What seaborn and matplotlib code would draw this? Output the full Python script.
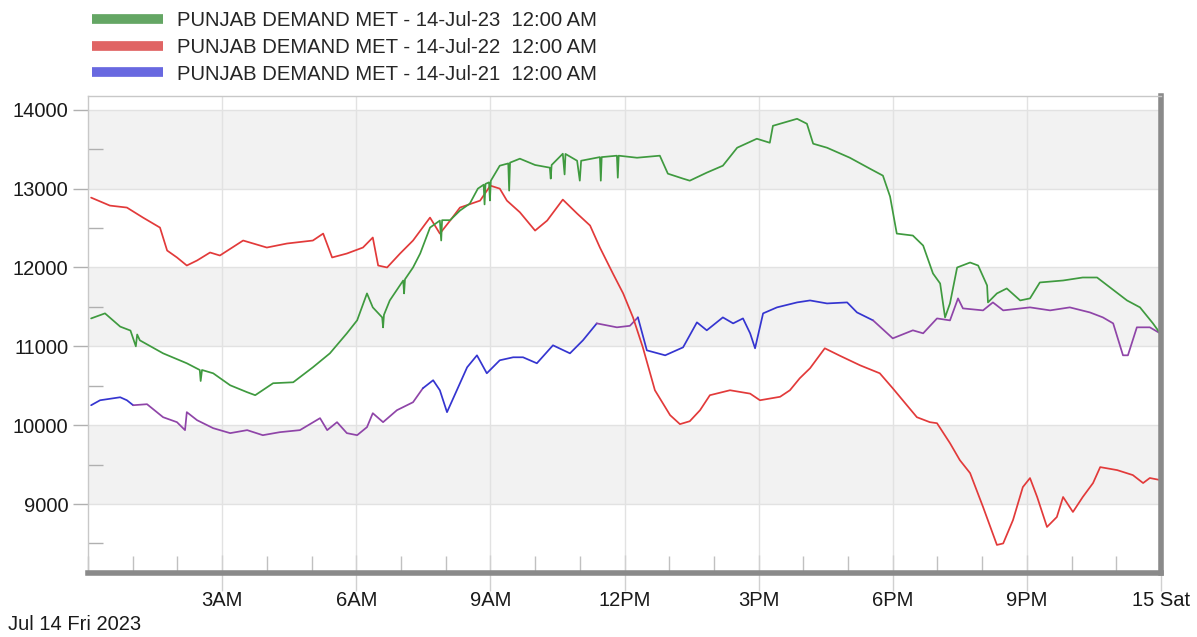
#!/usr/bin/env python3
"""Punjab demand met on 14 July, three years compared (hourly trace)."""

import numpy as np
import pandas as pd
import seaborn as sns
import matplotlib

matplotlib.use("Agg")
import matplotlib.pyplot as plt
from matplotlib.lines import Line2D
from matplotlib.ticker import MultipleLocator

# hours since midnight -> MW
HOURS_23 = [0.07, 0.38, 0.72, 0.95, 1.07, 1.10, 1.16, 1.68, 2.21, 2.50, 2.52, 2.55,
            2.80, 3.18, 3.56, 3.74, 4.14, 4.59, 5.03, 5.41, 5.79, 6.02, 6.24, 6.37,
            6.58, 6.60, 6.62, 6.75, 7.05, 7.07, 7.09, 7.27, 7.43, 7.65, 7.87, 7.90,
            7.92, 8.10, 8.32, 8.54, 8.72, 8.85, 8.87, 8.89, 8.97, 8.99, 9.01, 9.21,
            9.40, 9.42, 9.44, 9.66, 10.00, 10.33, 10.35, 10.37, 10.62, 10.66, 10.68,
            10.94, 11.00, 11.03, 11.45, 11.47, 11.49, 11.83, 11.85, 11.87, 12.28,
            12.79, 12.97, 13.31, 13.46, 13.84, 14.20, 14.52, 14.96, 15.25, 15.32,
            15.86, 16.08, 16.22, 16.53, 17.04, 17.49, 17.78, 17.94, 18.09, 18.45,
            18.68, 18.90, 19.06, 19.17, 19.28, 19.44, 19.73, 19.91, 20.11, 20.13,
            20.33, 20.55, 20.85, 21.07, 21.29, 21.81, 22.25, 22.57, 22.86, 23.24,
            23.53, 23.82, 23.98]
DEMAND_23 = [11354, 11418, 11250, 11200, 11000, 11150, 11076, 10911, 10785, 10700, 10560, 10700,
             10658, 10506, 10418, 10380, 10532, 10544, 10734, 10911, 11165, 11330, 11671, 11494,
             11367, 11240, 11400, 11582, 11835, 11671, 11850, 12000, 12177, 12506, 12595, 12342,
             12600, 12600, 12722, 12810, 13000, 13050, 12800, 13060, 13080, 12850, 13100, 13291,
             13320, 12975, 13330, 13380, 13300, 13266, 13127, 13300, 13443, 13180, 13440,
             13354, 13101, 13354, 13400, 13101, 13400, 13418, 13139, 13418, 13392,
             13418, 13190, 13127, 13101, 13203, 13291, 13519, 13633, 13582, 13797,
             13886, 13823, 13570, 13519, 13392, 13253, 13165, 12900, 12430, 12405,
             12278, 11924, 11797, 11367, 11544, 12000, 12063, 12025, 11772, 11557,
             11671, 11734, 11582, 11608, 11810, 11835, 11873, 11873, 11747, 11582,
             11494, 11291, 11165]

HOURS_22 = [0.07, 0.49, 0.87, 1.23, 1.61, 1.77, 1.99, 2.21, 2.44, 2.73, 2.95, 3.47,
            4.00, 4.45, 5.03, 5.26, 5.46, 5.79, 6.15, 6.37, 6.49, 6.69, 6.98, 7.27,
            7.65, 7.87, 8.10, 8.32, 8.77, 9.00, 9.21, 9.37, 9.66, 10.00, 10.27, 10.62,
            10.94, 11.23, 11.45, 11.74, 11.97, 12.19, 12.41, 12.68, 13.02, 13.24, 13.46,
            13.69, 13.91, 14.36, 14.81, 15.03, 15.48, 15.70, 15.92, 16.15, 16.48, 16.82,
            17.27, 17.71, 18.00, 18.54, 18.83, 18.99, 19.28, 19.50, 19.73, 20.02, 20.33,
            20.47, 20.69, 20.91, 21.07, 21.23, 21.45, 21.67, 21.81, 22.03, 22.25, 22.48,
            22.64, 23.02, 23.37, 23.60, 23.75, 23.98]
DEMAND_22 = [12886, 12785, 12760, 12633, 12506, 12215, 12127, 12025, 12089, 12190, 12152, 12342,
             12253, 12304, 12342, 12430, 12127, 12177, 12253, 12380, 12025, 12000, 12177, 12342,
             12633, 12430, 12595, 12760, 12848, 13038, 13000, 12848, 12700, 12468, 12595, 12861,
             12684, 12532, 12253, 11924, 11671, 11367, 10987, 10443, 10127, 10013, 10050,
             10190, 10380, 10443, 10400, 10316, 10360, 10443, 10595, 10722, 10975, 10880,
             10759, 10658, 10468, 10101, 10038, 10025, 9772, 9557, 9392, 8962, 8481,
             8500, 8797, 9215, 9329, 9089, 8709, 8835, 9089, 8899, 9089, 9266,
             9468, 9430, 9367, 9266, 9330, 9304]

HOURS_21 = [0.07, 0.27, 0.72, 0.87, 1.01, 1.32, 1.68, 1.99, 2.17, 2.21, 2.44, 2.80,
            3.18, 3.56, 3.91, 4.29, 4.74, 5.19, 5.35, 5.57, 5.79, 6.02, 6.24, 6.37,
            6.60, 6.91, 7.27, 7.49, 7.72, 7.87, 8.03, 8.25, 8.48, 8.70, 8.92, 9.21,
            9.51, 9.73, 10.04, 10.40, 10.78, 11.07, 11.38, 11.83, 12.12, 12.30, 12.50,
            12.91, 13.31, 13.62, 13.84, 14.20, 14.43, 14.65, 14.81, 14.92, 15.10, 15.41,
            15.86, 16.15, 16.53, 16.98, 17.20, 17.56, 18.00, 18.45, 18.68, 18.99, 19.28,
            19.46, 19.57, 20.02, 20.24, 20.47, 21.07, 21.52, 21.96, 22.41, 22.70, 22.93,
            23.15, 23.26, 23.46, 23.75, 23.98]
DEMAND_21 = [10253, 10316, 10354, 10316, 10253, 10266, 10101, 10038, 9937, 10165, 10063, 9962,
             9899, 9937, 9873, 9911, 9937, 10089, 9937, 10038, 9899, 9873, 9975, 10152,
             10038, 10190, 10291, 10468, 10570, 10443, 10165, 10443, 10734, 10886, 10658, 10823,
             10861, 10861, 10785, 11013, 10911, 11076, 11291, 11241, 11260, 11367, 10949,
             10886, 10987, 11304, 11203, 11367, 11291, 11354, 11165, 10975, 11418, 11494,
             11557, 11582, 11544, 11557, 11430, 11329, 11101, 11203, 11165, 11354, 11329,
             11608, 11481, 11456, 11557, 11456, 11494, 11456, 11494, 11430, 11367, 11291,
             10886, 10886, 11241, 11241, 11165]

LABELS = ["PUNJAB DEMAND MET - 14-Jul-23  12:00 AM",
          "PUNJAB DEMAND MET - 14-Jul-22  12:00 AM",
          "PUNJAB DEMAND MET - 14-Jul-21  12:00 AM"]
TICK_HOURS = [3, 6, 9, 12, 15, 18, 21, 24]
TICK_LABELS = ["3AM", "6AM", "9AM", "12PM", "3PM", "6PM", "9PM", "15 Sat"]
DATE_LABEL = "Jul 14 Fri 2023"

GREEN, RED, BLUE, PURPLE = "#3f9a3f", "#e23a3a", "#3535d0", "#8f45a8"
LEGEND_COLORS = ["#64a664", "#e06464", "#6868e0"]
# the 2021 trace switches between blue and purple along the day
SEGMENTS_21 = [(0.0, 1.0, BLUE), (1.0, 7.3, PURPLE), (7.3, 11.3, BLUE),
               (11.3, 12.2, PURPLE), (12.2, 17.3, BLUE), (17.3, 24.0, PURPLE)]

sns.set_theme(style="white")
plt.rcParams["font.family"] = ["Liberation Sans", "DejaVu Sans"]

fig = plt.figure(figsize=(11.97, 6.37), dpi=100)
ax = fig.add_axes([88 / 1197, 1 - 573 / 637, (1161 - 88) / 1197, (573 - 96) / 637])

ax.set_xlim(0, 24)
ax.set_ylim(8125, 14175)

# alternating bands
for lo in range(9000, 14000, 2000):
    ax.axhspan(lo, lo + 1000, color="#f2f2f2", zorder=0, lw=0)
for y in range(9000, 14001, 1000):
    ax.axhline(y, color="#e2e2e2", lw=1, zorder=0.5)
for h in TICK_HOURS[:-1]:
    ax.axvline(h, color="#e2e2e2", lw=1, zorder=0.5)

kw = dict(ax=ax, estimator=None, sort=False, lw=1.25, legend=False)

df21 = pd.DataFrame({"hour": HOURS_21, "mw": DEMAND_21})
hrs = np.asarray(HOURS_21)
for start, end, col in SEGMENTS_21:
    idx = np.where((hrs >= start) & (hrs <= end))[0]
    if len(idx) == 0:
        continue
    sel = df21.iloc[idx.min():min(idx.max() + 2, len(df21))]
    sns.lineplot(data=sel, x="hour", y="mw", color=col, **kw)

df22 = pd.DataFrame({"hour": HOURS_22, "mw": DEMAND_22})
sns.lineplot(data=df22, x="hour", y="mw", color=RED, **kw)

df23 = pd.DataFrame({"hour": HOURS_23, "mw": DEMAND_23})
sns.lineplot(data=df23, x="hour", y="mw", color=GREEN, **kw)

ax.set_xlabel("")
ax.set_ylabel("")

ax.set_yticks(range(9000, 14001, 1000))
ax.set_yticklabels([str(v) for v in range(9000, 14001, 1000)])
ax.yaxis.set_minor_locator(MultipleLocator(500))
ax.set_xticks(TICK_HOURS)
ax.set_xticklabels(TICK_LABELS)
ax.xaxis.set_minor_locator(MultipleLocator(1))

ax.tick_params(axis="y", which="major", direction="out", length=11, width=1,
               color="#b0b0b0", labelsize=14.5, labelcolor="#1a1a1a", pad=3, left=True)
ax.tick_params(axis="y", which="minor", direction="in", length=11, width=1,
               color="#b0b0b0", left=True)
ax.tick_params(axis="x", which="major", direction="inout", length=26, width=1,
               color="#d0d0d0", labelsize=14.5, labelcolor="#1a1a1a", pad=0, bottom=True)
ax.tick_params(axis="x", which="minor", direction="in", length=12, width=1,
               color="#c0c0c0", bottom=True)

for side in ("left", "top"):
    ax.spines[side].set_color("#c8c8c8")
    ax.spines[side].set_linewidth(1)
for side in ("right", "bottom"):
    ax.spines[side].set_color("#8a8a8a")
    ax.spines[side].set_linewidth(4)

handles = [Line2D([], [], color=c, lw=7, solid_capstyle="butt") for c in LEGEND_COLORS]
fig.legend(handles, LABELS, loc="upper left", bbox_to_anchor=(84 / 1197, 1 - 3 / 637),
           frameon=False, fontsize=14.6, handlelength=3.5, handletextpad=0.7,
           labelspacing=0.38, borderaxespad=0)

fig.text(8 / 1197, 1 - 625 / 637, DATE_LABEL, fontsize=14.5, color="#1a1a1a",
         va="center", ha="left")

fig.savefig("out.png", dpi=100)
